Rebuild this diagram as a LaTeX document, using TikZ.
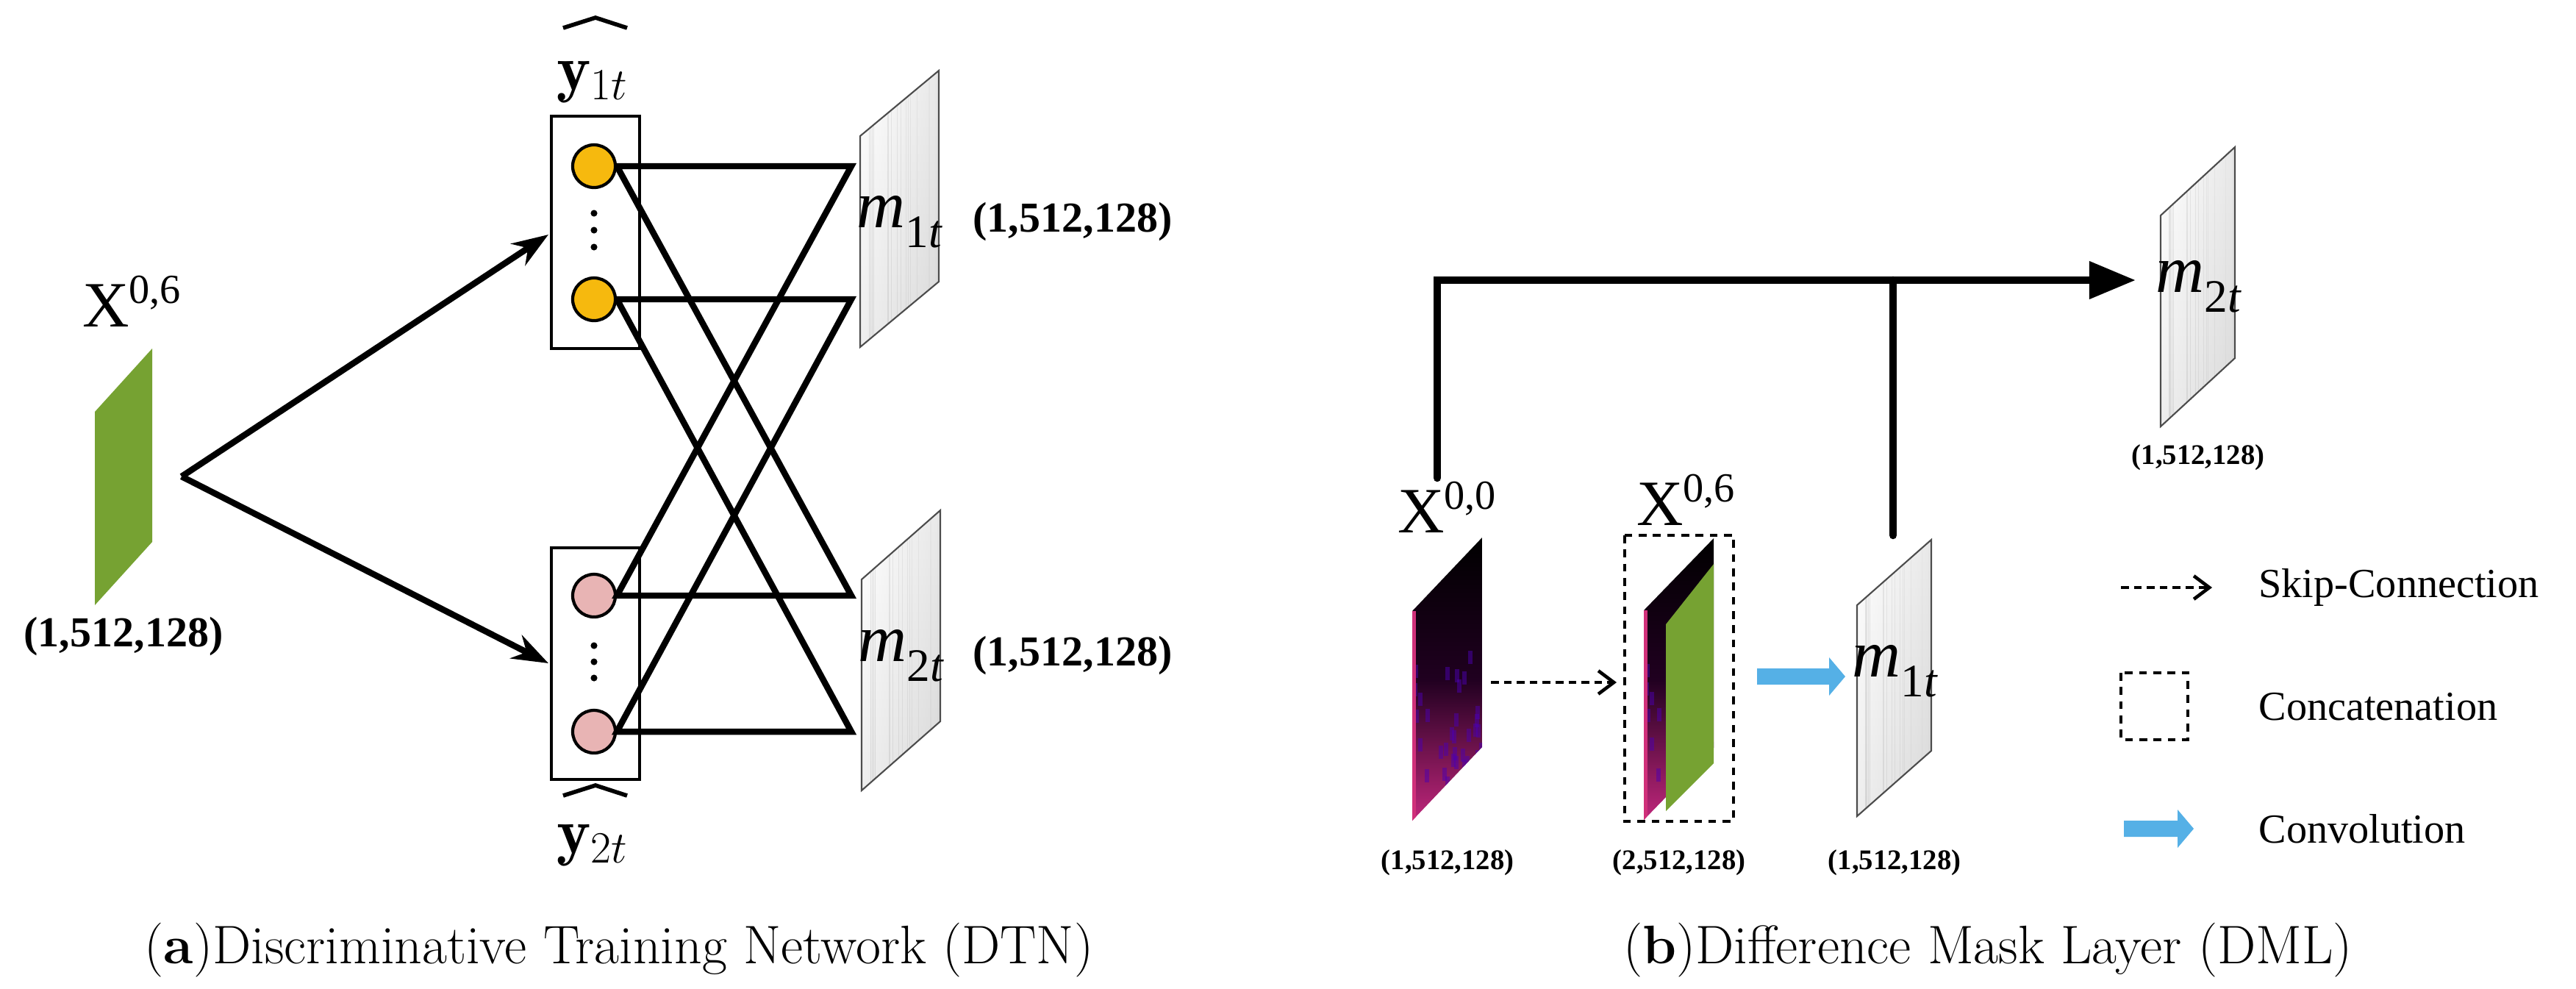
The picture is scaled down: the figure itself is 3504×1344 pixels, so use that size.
\documentclass[tikz,border=0pt]{standalone}
\usepackage{fontspec}
\newfontfamily\tnr{Liberation Serif}
\usetikzlibrary{arrows.meta}
\definecolor{ygold}{HTML}{F6B90E}
\definecolor{ppink}{HTML}{E8B4B4}
\definecolor{fgreen}{HTML}{76A232}
\definecolor{cblue}{HTML}{55B0E6}
\definecolor{mag}{HTML}{D0307A}
\tikzset{
 thick line/.style={line width=2.4pt, black},
 dim/.style={font=\tnr\bfseries\fontsize{16.5}{18}\selectfont},
 dims/.style={font=\tnr\bfseries\fontsize{11}{13}\selectfont},
 lab/.style={font=\tnr\fontsize{25}{28}\selectfont},
 mlab/.style={font=\tnr\itshape\fontsize{26}{28}\selectfont},
 leg/.style={font=\tnr\fontsize{16}{18}\selectfont, anchor=west},
 captext/.style={font=\fontsize{21}{24}\selectfont},
 neuron/.style={circle, draw=black, line width=1.2pt, minimum size=0.58cm, inner sep=0pt},
 box/.style={draw=black, line width=1.2pt},
 dashedbox/.style={draw=black, line width=1.2pt, dash pattern=on 3pt off 2.5pt},
 skip/.style={line width=1.3pt, dash pattern=on 3pt off 2pt, -{Straight Barb[length=6pt,width=9pt]}},
}
\newcommand{\mymask}[4]{%
 \begin{scope}
 \clip (#1,#3) -- (#2,#4) -- (#2,#4+287) -- (#1,#3+287) -- cycle;
 \shade[left color=white, right color=gray!35] (#1,#4) rectangle (#2,#3+287);
 \pgfmathsetseed{7}
 \foreach \i in {1,...,18}{
   \pgfmathsetmacro{\xx}{#1+rnd*(#2-#1)}
   \draw[gray!40, line width=0.2pt] (\xx,#4) -- (\xx,#3+287);
 }
 \shade[top color=white, bottom color=gray!25, opacity=0.5] (#1,#4) rectangle (#2,#3+287);
 \end{scope}
 \draw[gray!60!black, line width=0.6pt] (#1,#3) -- (#2,#4) -- (#2,#4+287) -- (#1,#3+287) -- cycle;
}
\newcommand{\myspec}[4]{%
 \begin{scope}
 \clip (#1,#3) -- (#2,#4) -- (#2,#4+285) -- (#1,#3+285) -- cycle;
 \shade[top color=black, bottom color=mag!80!violet, middle color=black!75!violet] (#1,#4) rectangle (#2,#3+285);
 \pgfmathsetseed{3}
 \foreach \i in {1,...,40}{
   \pgfmathsetmacro{\xx}{#1+rnd*(#2-#1)}
   \pgfmathsetmacro{\yy}{#3+40+rnd*220}
   \fill[violet!60!blue, opacity=0.5] (\xx,\yy) rectangle ++(6,18);
 }
 \fill[mag] (#1,#3) rectangle (#1+5,#3+285);
 \end{scope}
}
\newcommand{\convarrow}[3]{% x0 x1 y
 \fill[cblue] (#1,#3-11) -- (#2-22,#3-11) -- (#2-22,#3-26) -- (#2,#3) -- (#2-22,#3+26) -- (#2-22,#3+11) -- (#1,#3+11) -- cycle;
}
\begin{document}
\begin{tikzpicture}[x=0.01cm,y=-0.01cm]
\useasboundingbox (0,0) rectangle (3504,1344);
% ---------------- (a) ----------------
\fill[fgreen] (129,560) -- (207,474) -- (207,737) -- (129,823) -- cycle;
\node[lab] (x06a) at (180,410) {X\textsuperscript{\fontsize{16}{18}\selectfont 0,6}};
\node[dim] (da) at (168,866) {(1,512,128)};
\coordinate (apex) at (247,648);
\draw[box] (750,158) rectangle (870,474);
\draw[box] (750,745) rectangle (870,1060);
\node[neuron, fill=ygold] (y1) at (808,226) {};
\node[neuron, fill=ygold] (y2) at (808,407) {};
\node[neuron, fill=ppink] (p1) at (808,810) {};
\node[neuron, fill=ppink] (p2) at (808,995) {};
\foreach \yy in {290,313,336} \fill (808,\yy) circle (1.3pt);
\foreach \yy in {878,900,922} \fill (808,\yy) circle (1.3pt);
\draw[thick line, -{Stealth[length=14pt,width=10pt]}] (apex) -- (746,319);
\draw[thick line, -{Stealth[length=14pt,width=10pt]}] (apex) -- (746,902);
\coordinate (r1) at (1158,226);
\coordinate (r2) at (1158,407);
\coordinate (r3) at (1158,810);
\coordinate (r4) at (1158,995);
\draw[thick line, line join=miter] (y1.east) -- (r1) -- (p1.east) -- (r3) -- (y1.east);
\draw[thick line, line join=miter] (y2.east) -- (r2) -- (p2.east) -- (r4) -- (y2.east);
\mymask{1170}{1277}{185}{96}
\mymask{1172}{1279}{788}{694}
\node[mlab] (m1a) at (1223,302) {m\raisebox{-0.3em}{\fontsize{18}{20}\selectfont\upshape 1\itshape t}};
\node[mlab] (m2a) at (1225,892) {m\raisebox{-0.3em}{\fontsize{18}{20}\selectfont\upshape 2\itshape t}};
\node[dim] (d1) at (1459,302) {(1,512,128)};
\node[dim] (d2) at (1459,892) {(1,512,128)};
\node[lab] (yh1) at (806,112) {$\mathbf{y}_{1t}$};
\node[lab] (yh2) at (806,1150) {$\mathbf{y}_{2t}$};
\draw[line width=1.6pt] (766,38) -- (810,24) -- (853,38);
\draw[line width=1.6pt] (766,1082) -- (810,1068) -- (853,1082);
\node[captext] (capa) at (842,1292) {(\textbf{a})Discriminative Training Network (DTN)};
% ---------------- (b) ----------------
\myspec{1921}{2016}{831}{731}
\node[lab] (x00) at (1969,690) {X\textsuperscript{\fontsize{16}{18}\selectfont 0,0}};
\draw[dashedbox] (2210,728) rectangle (2358,1117);
\node[lab] (x06b) at (2294,680) {X\textsuperscript{\fontsize{16}{18}\selectfont 0,6}};
\myspec{2236}{2331}{830}{732}
\fill[fgreen] (2266,849) -- (2331,767) -- (2331,1038) -- (2266,1103) -- cycle;
\coordinate (sk0) at (2028,928);
\coordinate (sk1) at (2199,928);
\draw[skip] (sk0) -- (sk1);
\convarrow{2390}{2510}{920}
\mymask{2526}{2627}{823}{734}
\node[mlab] (m1b) at (2577,913) {m\raisebox{-0.3em}{\fontsize{18}{20}\selectfont\upshape 1\itshape t}};
\mymask{2939}{3040}{293}{200}
\node[mlab] (m2b) at (2990,390) {m\raisebox{-0.3em}{\fontsize{18}{20}\selectfont\upshape 2\itshape t}};
\coordinate (s0) at (1955,650);
\coordinate (s1) at (2575,728);
\coordinate (c0) at (1955,381);
\coordinate (c1) at (2575,381);
\coordinate (tip) at (2905,381);
\draw[line width=3pt, line cap=round, line join=miter, -{Triangle[length=18pt,width=14pt]}] (s0) -- (c0) -- (tip);
\draw[line width=3pt, line cap=round] (s1) -- (c1);
\node[dims] (db0) at (1969,1173) {(1,512,128)};
\node[dims] (db1) at (2284,1173) {(2,512,128)};
\node[dims] (db2) at (2577,1173) {(1,512,128)};
\node[dims] (db3) at (2990,622) {(1,512,128)};
% legend
\coordinate (lk0) at (2885,799);
\coordinate (lk1) at (3009,799);
\draw[skip] (lk0) -- (lk1);
\node[leg] (l1) at (3060,799) {Skip-Connection};
\draw[dashedbox] (2885,915) rectangle (2976,1006);
\node[leg] (l2) at (3060,961) {Concatenation};
\convarrow{2889}{2984}{1127}
\node[leg] (l3) at (3060,1127) {Convolution};
\node[captext] (capb) at (2704,1292) {(\textbf{b})Difference Mask Layer (DML)};
\end{tikzpicture}
\end{document}
